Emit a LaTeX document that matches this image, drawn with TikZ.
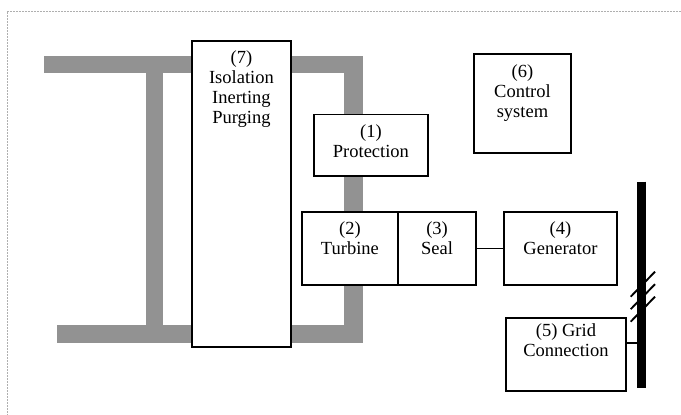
\documentclass[tikz,border=0pt]{standalone}
\usepackage{fontspec}
\setmainfont{Liberation Serif}
\begin{document}
\begin{tikzpicture}[x=1pt,y=-1pt,
  pipe/.style={fill=pipegray,draw=none},
  box/.style={draw=black,fill=white,line width=1.9pt,inner sep=0pt},
  lbl/.style={inner sep=0pt,align=center,font=\fontsize{18.5}{20}\selectfont},
  conn/.style={line width=1.9pt},
  frame/.style={draw=framegray,line width=0.8pt,dash pattern=on 2pt off 1pt}]
\definecolor{pipegray}{RGB}{146,146,146}
\definecolor{framegray}{RGB}{175,175,175}
\useasboundingbox (0,0) rectangle (681,415);
% dashed frame (top and left edges)
\coordinate (fa) at (681,11);
\coordinate (fb) at (7,11);
\coordinate (fc) at (7,415);
\draw[frame] (fa) -- (fb) -- (fc);
% gray pipes
\fill[pipegray] (44,56) rectangle (362.7,73.3);
\fill[pipegray] (57,325) rectangle (362.7,343.3);
\fill[pipegray] (145.7,56) rectangle (163.3,343.3);
\fill[pipegray] (344,56) rectangle (362.7,343.3);
% boxes
\node[box,anchor=north west,minimum width=99,minimum height=306] (b7) at (191,40) {};
\node[lbl,anchor=north] (t7) at ([yshift=-10pt]b7.north) {(7)\\Isolation\\Inerting\\Purging};
\node[box,anchor=north west,minimum width=114,minimum height=61.5] (b1) at (313,113.5) {};
\node[lbl,anchor=north] (t1) at ([yshift=-10.5pt]b1.north) {(1)\\Protection};
\node[box,anchor=north west,minimum width=97,minimum height=99] (b6) at (473,53) {};
\node[lbl,anchor=north] (t6) at ([yshift=-11.5pt]b6.north) {(6)\\Control\\system};
\node[box,anchor=north west,minimum width=96.6,minimum height=73.6] (b2) at (300.7,210.7) {};
\node[lbl,anchor=north] (t2) at ([yshift=-10.5pt]b2.north) {(2)\\Turbine};
\node[box,anchor=north west,minimum width=77.7,minimum height=73.6] (b3) at (397.3,210.7) {};
\node[lbl,anchor=north] (t3) at ([yshift=-10.5pt]b3.north) {(3)\\Seal};
\node[box,anchor=north west,minimum width=113,minimum height=73.6] (b4) at (503,210.7) {};
\node[lbl,anchor=north] (t4) at ([yshift=-10.5pt]b4.north) {(4)\\Generator};
\node[box,anchor=north west,minimum width=120,minimum height=73.3] (b5) at (505,316.7) {};
\node[lbl,anchor=north] (t5) at ([yshift=-7pt]b5.north) {(5) Grid\\Connection};
% seal - generator shaft
\draw[conn] (b3.east) -- (b4.west);
% bus bar
\coordinate (bustop) at (641.5,181.7);
\coordinate (busbot) at (641.5,388.3);
\coordinate (gj) at (641.5,343.3);
\draw[conn] (gj -| b5.east) -- (gj);
\draw[line width=9pt] (bustop) -- (busbot);
% hatch marks
\foreach \i in {0,1,2}{
  \coordinate (h\i a) at (630.7,296.7+12.5*\i);
  \coordinate (h\i b) at (655,271.7+12.5*\i);
  \draw[conn] (h\i a) -- (h\i b);
}
\end{tikzpicture}
\end{document}
